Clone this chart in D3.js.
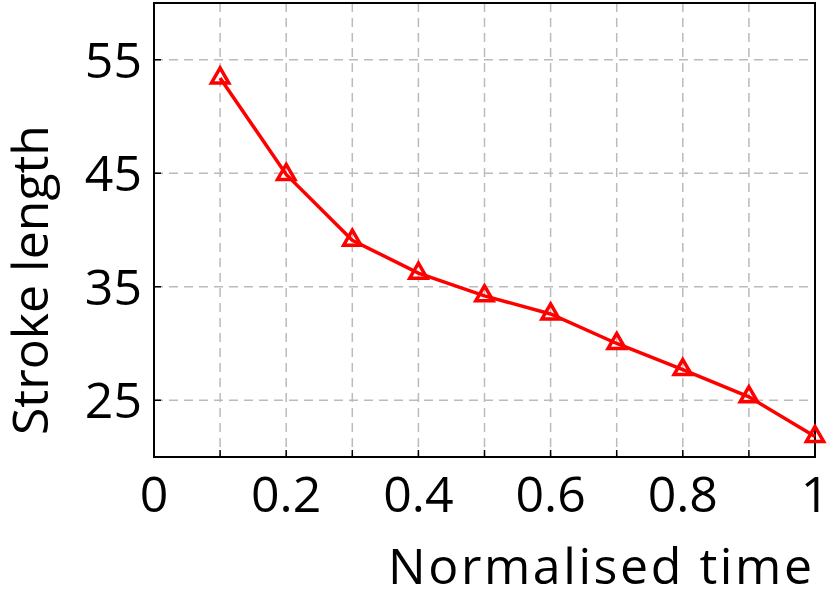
<!DOCTYPE html>
<meta charset="utf-8">
<style>body{margin:0;background:#fff}</style>
<body>
<script src="https://cdn.jsdelivr.net/npm/d3@7"></script>
<script>
var times = [0.1, 0.2, 0.3, 0.4, 0.5, 0.6, 0.7, 0.8, 0.9, 1.0];
var strokeLength = [53.4, 44.9, 39.1, 36.2, 34.2, 32.6, 30.0, 27.7, 25.3, 21.8];
var xTicks = [0, 0.2, 0.4, 0.6, 0.8, 1];
var yTicks = [25, 35, 45, 55];

var svg = d3.select("body").append("svg").attr("width", 831).attr("height", 597);
var font = "'Open Sans', sans-serif";

var x = d3.scaleLinear().domain([0, 1]).range([154, 815]);
var y = d3.scaleLinear().domain([20, 60]).range([457, 3]);

// grid
svg.selectAll(".gx").data(d3.range(0.1, 1.0, 0.1)).enter().append("line")
    .attr("x1", d => x(d)).attr("x2", d => x(d)).attr("y1", 3).attr("y2", 457)
    .attr("stroke", "#bbb").attr("stroke-width", 1.5).attr("stroke-dasharray", "9,6");
svg.selectAll(".gy").data(yTicks).enter().append("line")
    .attr("x1", 154).attr("x2", 815).attr("y1", d => y(d)).attr("y2", d => y(d))
    .attr("stroke", "#bbb").attr("stroke-width", 1.5).attr("stroke-dasharray", "9,6");

svg.append("rect").attr("x", 154).attr("y", 3).attr("width", 661).attr("height", 454)
    .attr("fill", "none").attr("stroke", "#000").attr("stroke-width", 2);

// ticks
svg.selectAll(".ty").data(yTicks).enter().append("line")
    .attr("x1", 154).attr("x2", 161).attr("y1", d => y(d)).attr("y2", d => y(d)).attr("stroke", "#000").attr("stroke-width", 1.5);
svg.selectAll(".tx").data(d3.range(0.1, 1.0, 0.1)).enter().append("line")
    .attr("x1", d => x(d)).attr("x2", d => x(d)).attr("y1", 457).attr("y2", 450).attr("stroke", "#000").attr("stroke-width", 1.5);

svg.selectAll(".lx").data(xTicks).enter().append("text")
    .attr("x", d => x(d)).attr("y", 512).attr("text-anchor", "middle")
    .style("font", "50px " + font).text(d => d);
svg.selectAll(".ly").data(yTicks).enter().append("text")
    .attr("x", 142).attr("y", d => y(d) + 18).attr("text-anchor", "end")
    .style("font", "50px " + font).text(d => d);

svg.append("text").attr("x", 812).attr("y", 584).attr("text-anchor", "end")
    .attr("textLength", 424)
    .style("font", "50px " + font).text("Normalised time");
svg.append("text").attr("transform", "translate(48,280) rotate(-90)").attr("text-anchor", "middle")
    .style("font", "50px " + font).text("Stroke length");

var pts = times.map((t, i) => [t, strokeLength[i]]);
svg.append("path").datum(pts)
    .attr("d", d3.line().x(d => x(d[0])).y(d => y(d[1])))
    .attr("fill", "none").attr("stroke", "#f00").attr("stroke-width", 3.5);
svg.selectAll(".m").data(pts).enter().append("path")
    .attr("transform", d => "translate(" + x(d[0]) + "," + y(d[1]) + ")")
    .attr("d", d3.symbol().type(d3.symbolTriangle).size(130))
    .attr("fill", "none").attr("stroke", "#f00").attr("stroke-width", 3.5);
</script>
